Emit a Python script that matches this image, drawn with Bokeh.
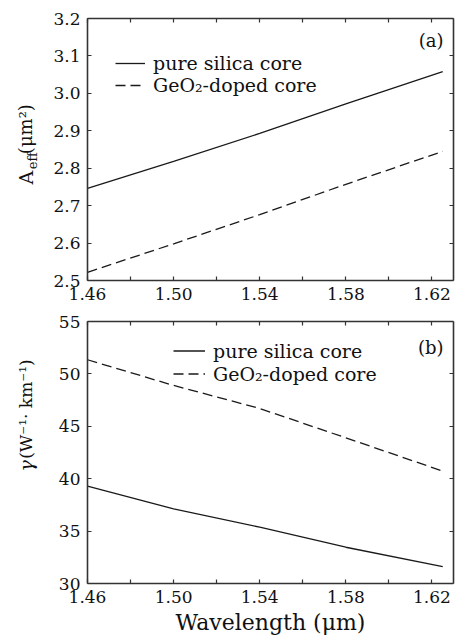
from math import pi
from bokeh.plotting import figure
from bokeh.models import Range1d, LinearAxis, FixedTicker, Label, PrintfTickFormatter
from bokeh.layouts import column, row
from bokeh.core.properties import value
from bokeh.embed import file_html
from bokeh.resources import INLINE

# ---- data ----
wavelength = [1.46, 1.50, 1.54, 1.58, 1.625]
aeff_pure = [2.746, 2.818, 2.893, 2.972, 3.058]
aeff_geo = [2.522, 2.598, 2.676, 2.757, 2.845]
gamma_pure = [39.29, 37.13, 35.37, 33.46, 31.62]
gamma_geo = [51.35, 48.90, 46.70, 43.90, 40.72]

x_major = [1.46, 1.50, 1.54, 1.58, 1.62]
x_minor = [1.48, 1.52, 1.56, 1.60]
y_top_ticks = [2.5, 2.6, 2.7, 2.8, 2.9, 3.0, 3.1, 3.2]
y_bot_ticks = [30, 35, 40, 45, 50, 55]

FONT = "DejaVu Serif"
INK = "#1a1a1a"
TXT = "#111111"
AX = "#333333"
LABEL_W = 40


def style_axis(ax, ticks, minor, fmt, show_labels):
    ax.ticker = FixedTicker(ticks=ticks, minor_ticks=minor)
    ax.formatter = PrintfTickFormatter(format=fmt)
    ax.axis_line_color = AX
    ax.axis_line_width = 1.6
    ax.major_tick_line_color = AX
    ax.minor_tick_line_color = AX
    ax.major_tick_line_width = 1.2
    ax.minor_tick_line_width = 1.2
    ax.major_tick_in = 4
    ax.major_tick_out = 0
    ax.minor_tick_in = 4
    ax.minor_tick_out = 0
    if show_labels:
        ax.major_label_text_font = FONT
        ax.major_label_text_font_size = "17px"
        ax.major_label_text_color = TXT
        ax.major_label_standoff = 7
    else:
        ax.major_label_text_font_size = "1px"
        ax.major_label_text_color = None
        ax.major_label_standoff = 0


def make_fig(height, yr, yticks, yfmt, border_top, border_bottom):
    p = figure(width=456 - LABEL_W, height=height, x_range=Range1d(1.46, 1.63), y_range=yr,
               output_backend="svg", toolbar_location=None, title=None,
               min_border_left=87 - LABEL_W, min_border_right=3,
               min_border_top=border_top, min_border_bottom=border_bottom)
    p.grid.visible = False
    p.outline_line_color = None
    p.background_fill_color = "white"
    p.border_fill_color = "white"
    bottom = p.xaxis[0]
    style_axis(bottom, x_major, x_minor, "%.2f", True)
    style_axis(p.yaxis[0], yticks, [], yfmt, True)
    top = LinearAxis()
    style_axis(top, x_major, x_minor, "%.2f", False)
    p.add_layout(top, "above")
    right = LinearAxis()
    style_axis(right, yticks, [], yfmt, False)
    p.add_layout(right, "right")
    return p, bottom


def style_legend(lg, loc, gw, rh):
    lg.location = loc
    lg.margin = 0
    lg.padding = 0
    lg.spacing = 0
    lg.glyph_width = gw
    lg.glyph_height = rh
    lg.label_height = rh
    lg.label_standoff = 8
    lg.label_text_font = FONT
    lg.label_text_font_size = "19px"
    lg.label_text_color = TXT
    lg.border_line_color = None
    lg.background_fill_alpha = 0


def label_fig(height):
    f = figure(width=LABEL_W, height=height, x_range=Range1d(0, LABEL_W), y_range=Range1d(0, height),
               output_backend="svg", toolbar_location=None, title=None,
               x_axis_location=None, y_axis_location=None,
               min_border_left=0, min_border_right=0, min_border_top=0, min_border_bottom=0)
    f.grid.visible = False
    f.outline_line_color = None
    f.border_fill_color = "white"
    f.background_fill_color = "white"
    return f


def vtext(f, x, y, txt, size, style="normal"):
    f.text(x=[x], y=[y], text=[txt], angle=pi / 2, text_align="left",
           text_baseline="middle", text_font=value(FONT), text_font_size=value(size),
           text_font_style=style, text_color=TXT)


H_TOP = 311
H_BOT = 330

# ---- panel (a) ----
pa, pa_x = make_fig(H_TOP, Range1d(2.5, 3.2), y_top_ticks, "%.1f", 18, 31)
pa.line(wavelength, aeff_pure, line_color=INK, line_width=1.3, legend_label="pure silica core")
pa.line(wavelength, aeff_geo, line_color=INK, line_width=1.3, line_dash="10 5",
        legend_label="GeO₂-doped core")
style_legend(pa.legend[0], (28, 184), 30, 22)
pa.add_layout(Label(x=356, y=240, x_units="screen", y_units="screen", text="(a)",
                    text_align="right", text_baseline="middle", text_font=FONT,
                    text_font_size="18px", text_color=TXT))

la = label_fig(H_TOP)
vtext(la, 25, H_TOP - 197, "A", "19px")
vtext(la, 32, H_TOP - 179, "eff", "13px")
vtext(la, 25, H_TOP - 161, "(μm²)", "18px")

# ---- panel (b) ----
pb, pb_x = make_fig(H_BOT, Range1d(30, 55), y_bot_ticks, "%d", 10, 58)
pb.line(wavelength, gamma_pure, line_color=INK, line_width=1.3, legend_label="pure silica core")
pb.line(wavelength, gamma_geo, line_color=INK, line_width=1.3, line_dash="10 5",
        legend_label="GeO₂-doped core")
style_legend(pb.legend[0], (86, 198), 32, 23)
pb.add_layout(Label(x=356, y=236, x_units="screen", y_units="screen", text="(b)",
                    text_align="right", text_baseline="middle", text_font=FONT,
                    text_font_size="18px", text_color=TXT))

pb_x.axis_label = "Wavelength (μm)"
pb_x.axis_label_text_font = FONT
pb_x.axis_label_text_font_size = "22px"
pb_x.axis_label_text_font_style = "normal"
pb_x.axis_label_text_color = TXT
pb_x.axis_label_standoff = 4

lb = label_fig(H_BOT)
vtext(lb, 25, 641 - 500, "γ", "19px", "italic")
vtext(lb, 25, 641 - 484, "(W⁻¹· km⁻¹)", "17px")

layout = column(row(la, pa), row(lb, pb))
open("out.html", "w").write(file_html(layout, INLINE))
